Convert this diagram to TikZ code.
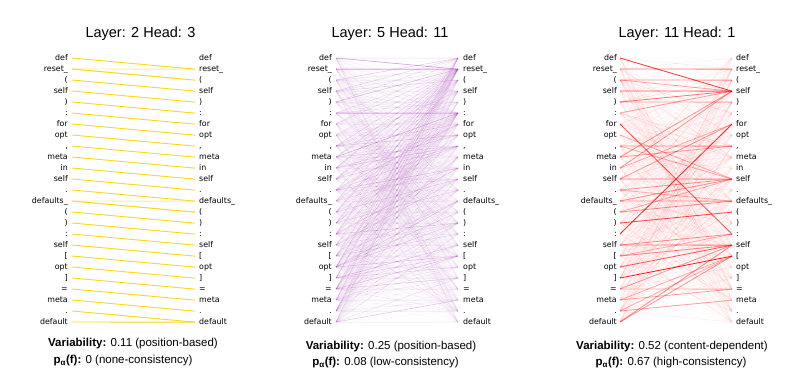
\documentclass[tikz,border=0pt]{standalone}
\usepackage{fontspec}
\setmainfont{Liberation Sans}
\newfontfamily\tokfont{DejaVu Sans}
\definecolor{yel}{RGB}{255,216,20}
\definecolor{pur}{RGB}{168,60,182}
\definecolor{redc}{RGB}{255,0,0}
\newcommand\tok[1]{\ifcase#1\or def\or reset\_\or (\or self\or )\or :\or for\or opt\or ,\or meta\or in\or self\or .\or defaults\_\or (\or )\or :\or self\or [\or opt\or ]\or =\or meta\or .\or default\fi}
\tikzset{
  tokl/.style={anchor=base east, inner sep=0pt, font=\tokfont\fontsize{7.9}{9}\selectfont},
  tokr/.style={anchor=base west, inner sep=0pt, font=\tokfont\fontsize{7.9}{9}\selectfont},
  ttl/.style={inner sep=0pt, font=\fontsize{14.5}{17}\selectfont},
  captxt/.style={inner sep=0pt, font=\fontsize{11.5}{13}\selectfont},
  yline/.style={draw=yel, line width=0.9pt},
  pline/.style={draw=pur, line width=0.5pt},
  rline/.style={draw=redc, line width=0.6pt},
}
% #1 id, #2 left label x, #3 left line x, #4 right line x, #5 right label x
\newcommand\mkpanel[5]{%
  \foreach \k in {1,...,25}{%
    \pgfmathsetmacro\yy{58+11*(\k-1)}%
    \node[tokl] (#1L\k) at (#2,\yy+2.9) {\tok{\k}};
    \coordinate (#1a\k) at (#3,\yy);
    \coordinate (#1b\k) at (#4,\yy+0.15);
    \node[tokr] (#1R\k) at (#5,\yy+2.9) {\tok{\k}};
  }%
}
\begin{document}
\begin{tikzpicture}[x=1pt,y=-1pt]
\useasboundingbox[fill=white] (0,0) rectangle (797,377);
\mkpanel{A}{68}{72}{195}{199}
\mkpanel{B}{332}{336}{458}{463}
\mkpanel{C}{617}{620}{732}{736}

% ---------- panel 1 ----------
\draw[yline, opacity=0.45] (Aa2) -- (Ab2);
\draw[yline, opacity=0.4] (Aa2) -- (Ab3);
\draw[yline, opacity=0.45] (Aa14) -- (Ab14);
\draw[yline, opacity=0.4] (Aa14) -- (Ab15);
\foreach \k in {1,...,24}{%
  \pgfmathtruncatemacro\n{\k+1}%
  \draw[yline] (Aa\k) -- (Ab\n);
}
\draw[yline] (Aa25) -- (Ab25);

% ---------- panel 2 ----------
\pgfmathsetseed{12}
\foreach \i in {1,...,25}{%
  \foreach \j in {1,...,25}{%
    \pgfmathsetmacro\r{rnd}%
    \pgfmathsetmacro\w{(\j<\i) ? (0.02+0.3*\r*\r*\r*((\i-\j<7) ? 1 : 0.6)) : ((\j==\i) ? 0.2 : (0.01+0.12*\r*\r*\r*\r))}%
    \pgfmathsetmacro\w{\w + or(\j==2,\j==6)*(0.04+0.1*rnd)}%
    \pgfmathsetmacro\w{min(\w,1)}%
    \draw[pline, opacity=\w] (Ba\i) -- (Bb\j);
  }%
}
\draw[pline, opacity=0.7] (Ba2) -- (Bb2);
\draw[pline, opacity=0.6] (Ba6) -- (Bb6);
\draw[pline, opacity=0.45] (Ba1) -- (Bb2);

% ---------- panel 3 ----------
\pgfmathsetseed{5}
\foreach \i in {1,...,25}{%
  \foreach \j in {1,...,25}{%
    \pgfmathsetmacro\r{rnd}%
    \pgfmathsetmacro\w{0.012+0.12*\r*\r*\r*\r*\r}%
    \draw[rline, line width=0.5pt, opacity=\w] (Ca\i) -- (Cb\j);
  }%
}
\foreach \i/\j/\o in {1/4/0.8, 2/2/0.5, 3/3/0.4, 3/4/0.35, 4/4/0.6, 5/4/0.5, 5/5/0.3, 6/4/0.35,
  7/17/0.7, 8/12/0.3, 9/9/0.4, 9/12/0.25, 10/4/0.4, 10/9/0.3, 11/4/0.4, 11/7/0.3,
  12/12/0.5, 12/7/0.4, 13/12/0.4, 13/14/0.3, 14/12/0.4, 14/14/0.4, 15/14/0.4, 15/12/0.3,
  16/15/0.7, 17/7/0.85, 18/18/0.5, 18/17/0.4, 19/18/0.45, 19/17/0.3, 20/18/0.65, 21/19/0.9,
  22/18/0.4, 22/22/0.3, 23/22/0.35, 23/19/0.3, 24/23/0.35, 24/19/0.3, 25/18/0.45, 25/19/0.35}{%
  \draw[rline, line width=0.8pt, opacity=\o] (Ca\i) -- (Cb\j);
}

% ---------- titles ----------
\node[ttl] (T1) at (140.5,33.5) {Layer: 2 Head: 3};
\node[ttl] (T2) at (390,33.5) {Layer: 5 Head: 11};
\node[ttl] (T3) at (677,33.5) {Layer: 11 Head: 1};

% ---------- captions ----------
\node[captxt] (C1a) at (133,343.5) {\textbf{Variability:} 0.11 (position-based)};
\node[captxt] (C1b) at (123,361) {\textbf{p\textsubscript{α}(f):} 0 (none-consistency)};
\node[captxt] (C2a) at (391,347) {\textbf{Variability:} 0.25 (position-based)};
\node[captxt] (C2b) at (385.5,363) {\textbf{p\textsubscript{α}(f):} 0.08 (low-consistency)};
\node[captxt] (C3a) at (672,346.5) {\textbf{Variability:} 0.52 (content-dependent)};
\node[captxt] (C3b) at (671,363) {\textbf{p\textsubscript{α}(f):} 0.67 (high-consistency)};
\end{tikzpicture}
\end{document}
